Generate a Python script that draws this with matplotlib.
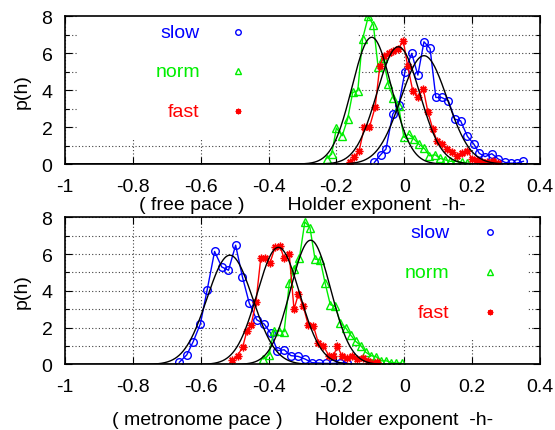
import numpy as np
import matplotlib
matplotlib.use("Agg")
import matplotlib.pyplot as plt
from matplotlib.patches import Rectangle

plt.rcParams['font.family'] = ['Liberation Sans', 'DejaVu Sans']
plt.rcParams['font.size'] = 14

BLUE = '#0000ff'
GREEN = '#00ee00'
RED = '#ff0000'

# ---- free pace histograms (h, p(h)) ----
free_slow_h = [-0.088, -0.070, -0.054, -0.034, -0.016, 0.002, 0.022, 0.040, 0.058, 0.076,
               0.093, 0.110, 0.130, 0.149, 0.166, 0.186, 0.205, 0.221, 0.238, 0.258,
               0.277, 0.297, 0.314, 0.331, 0.351]
free_slow_p = [0.09, 0.50, 0.81, 2.70, 3.20, 5.00, 5.98, 4.81, 6.61, 6.25,
               3.60, 3.60, 3.42, 2.43, 2.34, 1.50, 1.08, 0.58, 0.40, 0.56,
               0.27, 0.09, 0.05, 0.05, 0.15]

free_norm_h = [-0.229, -0.214, -0.200, -0.183, -0.167, -0.152, -0.137, -0.123, -0.106, -0.091,
               -0.077, -0.062, -0.047, -0.032, -0.017, -0.001, 0.013, 0.029, 0.043, 0.059,
               0.074, 0.091, 0.105, 0.120, 0.135, 0.152, 0.169, 0.184]
free_norm_p = [0.30, 0.54, 1.95, 1.53, 2.43, 3.87, 3.97, 6.76, 7.98, 7.51,
               5.23, 5.71, 4.32, 3.55, 3.15, 1.44, 1.62, 1.35, 1.08, 0.85,
               0.45, 0.50, 0.31, 0.23, 0.15, 0.15, 0.09, 0.06]

free_fast_h = [-0.160, -0.147, -0.133, -0.118, -0.103, -0.086, -0.072, -0.060, -0.045, -0.032,
               -0.018, -0.003, 0.010, 0.025, 0.040, 0.056, 0.070, 0.084, 0.096, 0.110,
               0.125, 0.140, 0.155, 0.170, 0.185, 0.200, 0.215, 0.230, 0.245, 0.260, 0.275]
free_fast_p = [0.09, 0.40, 0.72, 1.98, 1.98, 3.06, 5.31, 5.86, 6.00, 6.13,
               6.22, 6.67, 5.30, 3.96, 3.60, 4.05, 2.79, 1.89, 1.26, 1.10,
               0.81, 0.65, 0.45, 0.60, 0.72, 0.30, 0.20, 0.12, 0.10, 0.15, 0.05]

# ---- metronome pace histograms ----
metro_slow_h = [-0.663, -0.641, -0.622, -0.601, -0.581, -0.559, -0.538, -0.518, -0.497, -0.477,
                -0.457, -0.435, -0.413, -0.394, -0.374, -0.354, -0.334, -0.313, -0.293, -0.272,
                -0.252, -0.231, -0.211, -0.190, -0.170]
metro_slow_p = [0.12, 0.52, 1.24, 2.20, 4.04, 6.14, 5.30, 5.12, 6.48, 4.76,
                3.34, 2.43, 2.20, 1.71, 0.75, 0.80, 0.48, 0.44, 0.30, 0.10,
                0.08, 0.06, 0.06, 0.08, 0.10]

metro_norm_h = [-0.416, -0.399, -0.384, -0.369, -0.354, -0.339, -0.324, -0.309, -0.293, -0.278,
                -0.263, -0.248, -0.233, -0.218, -0.203, -0.188, -0.173, -0.158, -0.143, -0.128,
                -0.113, -0.098, -0.083, -0.068, -0.053, -0.038, -0.023, -0.008]
metro_norm_p = [0.30, 0.52, 1.83, 1.83, 1.78, 4.40, 5.20, 5.80, 7.75, 7.44,
                5.72, 5.70, 4.40, 3.25, 3.15, 2.25, 2.00, 1.60, 1.25, 1.02,
                0.66, 0.48, 0.42, 0.20, 0.20, 0.10, 0.08, 0.08]

metro_fast_h = [-0.507, -0.491, -0.476, -0.464, -0.451, -0.437, -0.423, -0.410, -0.396, -0.381,
                -0.366, -0.354, -0.339, -0.325, -0.312, -0.298, -0.283, -0.268, -0.253, -0.239,
                -0.222, -0.209, -0.197, -0.184, -0.168, -0.153, -0.138, -0.123, -0.108, -0.094,
                -0.080]
metro_fast_p = [0.24, 0.48, 0.97, 1.80, 2.17, 3.40, 5.76, 5.76, 5.50, 6.36,
                6.41, 5.76, 6.00, 3.00, 3.82, 3.19, 2.14, 2.10, 1.17, 1.02,
                0.48, 0.48, 0.99, 0.48, 0.35, 0.48, 0.30, 0.35, 0.20, 0.10,
                0.12]

# gaussian fits: (mean, sigma) for slow, norm, fast
free_fit = {'slow': (0.058, 0.0681), 'norm': (-0.096, 0.0582), 'fast': (-0.0176, 0.0629)}
metro_fit = {'slow': (-0.514, 0.0672), 'norm': (-0.276, 0.0591), 'fast': (-0.371, 0.0627)}

xticks = [-1, -0.8, -0.6, -0.4, -0.2, 0, 0.2, 0.4]
xticklabels = ['-1', '-0.8', '-0.6', '-0.4', '-0.2', '0', '0.2', '0.4']
yticks = [0, 2, 4, 6, 8]


def gauss(x, mu, s):
    return np.exp(-0.5 * ((x - mu) / s) ** 2) / (s * np.sqrt(2 * np.pi))


def setup(ax, xlabel, xlabelpad, keybox, keytext_x, keymark_x, key_y):
    ax.set_xlim(-1, 0.4)
    ax.set_ylim(0, 8)
    ax.set_xticks(xticks)
    ax.set_xticklabels(xticklabels)
    ax.set_yticks(yticks)
    ax.set_yticks([1, 3, 5, 7], minor=True)
    ax.tick_params(which='both', direction='in', top=True, right=True, width=0.8)
    ax.tick_params(which='major', length=5)
    ax.tick_params(which='minor', length=3)
    ax.tick_params(axis='x', pad=10)
    ax.tick_params(axis='y', pad=9)
    ax.set_axisbelow(True)
    ax.grid(True, which='both', linestyle=(0, (1, 2)), color='0.25', linewidth=0.8)
    for sp in ax.spines.values():
        sp.set_linewidth(1.2)
        sp.set_zorder(10)
    ax.set_ylabel('p(h)', labelpad=8)
    ax.set_xlabel(xlabel, labelpad=xlabelpad)

    # opaque key box hides the grid underneath
    x0, x1, y0 = keybox
    ax.add_patch(Rectangle((x0, y0), x1 - x0, 1 - y0, transform=ax.transAxes,
                           facecolor='white', edgecolor='none', zorder=0.9))
    for (name, col, mk), y in zip([('slow', BLUE, 'o'), ('norm', GREEN, '^'), ('fast', RED, (8, 2, 0))], key_y):
        ax.text(keytext_x, y, name, color=col, transform=ax.transAxes,
                ha='right', va='center', fontsize=14, zorder=5)
        ax.plot([keymark_x], [y], transform=ax.transAxes, marker=mk, ms=4,
                mfc='none', mec=col, mew=1, linestyle='none', zorder=5, clip_on=False)


def draw(ax, series, fits):
    xs = np.linspace(-1, 0.4, 1400)
    for h, p, col, mk in series:
        ax.plot(h, p, color=col, lw=1, marker=mk, ms=5.5, mfc='none', mec=col, mew=1, zorder=3)
    for mu, s in fits.values():
        ax.plot(xs, gauss(xs, mu, s), color='black', lw=1, zorder=4)


fig = plt.figure(figsize=(5.55, 4.31), dpi=100)
ax1 = fig.add_axes([0.117, 0.617, 0.856, 0.3434])
ax2 = fig.add_axes([0.117, 0.152, 0.856, 0.3417])

setup(ax1, '( free pace )        Holder exponent  -h-', 1,
      (0.025, 0.615, 0.162), 0.284, 0.364, [0.892, 0.628, 0.358])
draw(ax1, [(free_slow_h, free_slow_p, BLUE, 'o'),
           (free_norm_h, free_norm_p, GREEN, '^'),
           (free_fast_h, free_fast_p, RED, (8, 2, 0))], free_fit)

setup(ax2, '( metronome pace )      Holder exponent  -h-', 11,
      (0.362, 0.975, 0.166), 0.81, 0.895, [0.898, 0.627, 0.356])
draw(ax2, [(metro_slow_h, metro_slow_p, BLUE, 'o'),
           (metro_norm_h, metro_norm_p, GREEN, '^'),
           (metro_fast_h, metro_fast_p, RED, (8, 2, 0))], metro_fit)

fig.savefig('out.png', dpi=100)
